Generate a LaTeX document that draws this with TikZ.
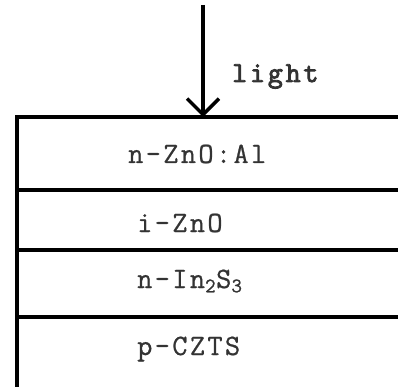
\documentclass[tikz,border=0pt]{standalone}
\usepackage{fontspec}
\newfontfamily\layerfont[FakeBold=0.8,LetterSpace=8]{Latin Modern Mono}
\newfontfamily\lightfont[FakeBold=3,LetterSpace=10]{Latin Modern Mono}
\usetikzlibrary{arrows.meta,positioning}

\begin{document}
\begin{tikzpicture}[x=1pt,y=-1pt,node distance=0pt,
  every node/.style={font=\layerfont\fontsize{29.5}{34}\selectfont,text=black!80},
  layer/.style={draw=black,line width=3.5pt,minimum width=430pt,inner sep=0pt,outer sep=0pt},
  lbl/.style={anchor=base west,inner sep=0pt}]
\useasboundingbox (0,0) rectangle (398,387);
% stack of layers, top to bottom
\node[layer,anchor=north west,minimum height=73pt] (azo) at (17,117) {};
\node[layer,minimum height=60pt,below=of azo] (izno) {};
\node[layer,minimum height=67pt,below=of izno] (ins) {};
\node[layer,minimum height=90pt,below=of ins] (czts) {};
\node[lbl] (azotext) at (128,163) {n-ZnO:Al};
\node[lbl] (iznotext) at (137,232) {i-ZnO};
\node[lbl] (instext) at (137,288) {n-In\textsubscript{2}S\textsubscript{3}};
\node[lbl] (cztstext) at (137,355) {p-CZTS};
% incoming light
\coordinate (sun) at (203,5);
\draw[line width=3.5pt,-{Straight Barb[length=16pt,width=32pt,line width=3.5pt]}] (sun) -- (sun |- azo.north);
\node[lbl,font=\lightfont\fontsize{29}{34}\selectfont] (light) at (232,82) {light};
\end{tikzpicture}
\end{document}
